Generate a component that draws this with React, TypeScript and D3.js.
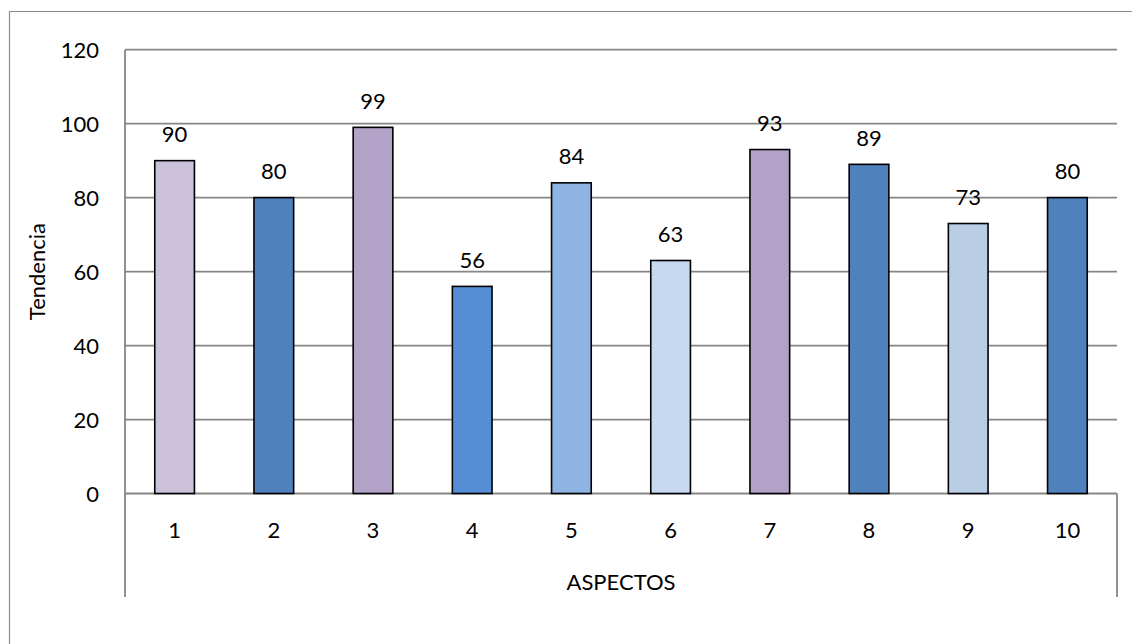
import React from "react";
import * as d3 from "d3";

const categories = ["1", "2", "3", "4", "5", "6", "7", "8", "9", "10"];
const values = [90, 80, 99, 56, 84, 63, 93, 89, 73, 80];
const barColors = [
  "#CCC1DA",
  "#4F81BD",
  "#B3A2C7",
  "#558ED5",
  "#8EB4E3",
  "#C6D9F1",
  "#B3A2C7",
  "#4F81BD",
  "#B9CDE5",
  "#4F81BD",
];
const yTicks = [0, 20, 40, 60, 80, 100, 120];
const yTitle = "Tendencia";
const xTitle = "ASPECTOS";

const W = 1132;
const H = 644;
const plot = { left: 125, right: 1117, top: 49.7, bottom: 493.5 };
const axisBottom = 597;
const FONT = "Lato, 'Open Sans', sans-serif";
const GRID = "#868686";

export default function App() {
  const x = d3
    .scaleBand<string>()
    .domain(categories)
    .range([plot.left, plot.right])
    .paddingInner(0.6)
    .paddingOuter(0.3);
  const y = d3.scaleLinear().domain([0, 120]).range([plot.bottom, plot.top]);

  return (
    <svg
      width={W}
      height={H}
      style={{ position: "absolute", left: 0, top: 0, background: "#fff" }}
      fontFamily={FONT}
    >
      <rect x={0} y={0} width={W} height={H} fill="#fff" />
      {/* chart area border */}
      <path d={`M9.5,${H} V11.5 H${W}`} fill="none" stroke="#8a8a8a" strokeWidth={1.2} />

      {/* horizontal gridlines */}
      {yTicks.map((t) => (
        <line
          key={"g" + t}
          x1={plot.left}
          x2={plot.right}
          y1={y(t)}
          y2={y(t)}
          stroke={GRID}
          strokeWidth={1.8}
        />
      ))}

      {/* axis lines */}
      <line x1={plot.left} x2={plot.left} y1={plot.top} y2={axisBottom} stroke={GRID} strokeWidth={1.8} />
      <line x1={plot.right} x2={plot.right} y1={plot.bottom} y2={axisBottom} stroke={GRID} strokeWidth={1.8} />

      {/* bars */}
      {values.map((v, i) => (
        <rect
          key={"b" + i}
          x={x(categories[i])!}
          y={y(v)}
          width={x.bandwidth()}
          height={y(0) - y(v)}
          fill={barColors[i]}
          stroke="#000"
          strokeWidth={1.6}
        />
      ))}

      {/* data labels */}
      {values.map((v, i) => (
        <text
          key={"l" + i}
          x={x(categories[i])! + x.bandwidth() / 2}
          y={y(v) - 27}
          textAnchor="middle"
          dominantBaseline="central"
          fontSize={22}
          fill="#000"
        >
          {v}
        </text>
      ))}

      {/* y tick labels */}
      {yTicks.map((t) => (
        <text
          key={"t" + t}
          x={99}
          y={y(t)}
          textAnchor="end"
          dominantBaseline="central"
          fontSize={22}
          fill="#000"
        >
          {t}
        </text>
      ))}

      {/* category labels */}
      {categories.map((c) => (
        <text
          key={"c" + c}
          x={x(c)! + x.bandwidth() / 2}
          y={529}
          textAnchor="middle"
          dominantBaseline="central"
          fontSize={22}
          fill="#000"
        >
          {c}
        </text>
      ))}

      {/* axis titles */}
      <text
        x={(plot.left + plot.right) / 2}
        y={581}
        textAnchor="middle"
        dominantBaseline="central"
        fontSize={22}
        fill="#000"
      >
        {xTitle}
      </text>
      <text
        transform={`translate(36, ${(plot.top + plot.bottom) / 2}) rotate(-90)`}
        textAnchor="middle"
        dominantBaseline="central"
        fontSize={22}
        fill="#000"
      >
        {yTitle}
      </text>
    </svg>
  );
}
